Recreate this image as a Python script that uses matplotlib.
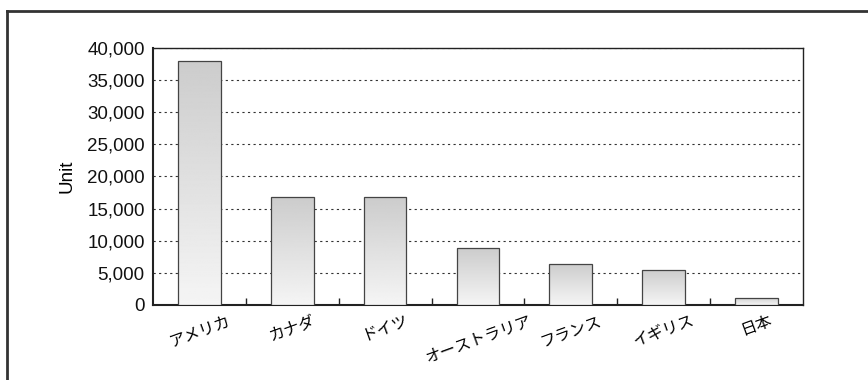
import matplotlib.pyplot as plt
import numpy as np
from matplotlib.lines import Line2D
from matplotlib.ticker import FuncFormatter, FixedLocator

countries = ['アメリカ', 'カナダ', 'ドイツ', 'オーストラリア', 'フランス', 'イギリス', '日本']
units = [38000, 16800, 16800, 8800, 6400, 5500, 1100]
y_ticks = [0, 5000, 10000, 15000, 20000, 25000, 30000, 35000, 40000]

plt.rcParams['font.family'] = ['Liberation Sans', 'Noto Sans CJK JP', 'DejaVu Sans']


def gradient_bars(ax, bars):
    # vertical grey shading: darker at the top, lighter at the bottom
    grad = np.linspace(0.80, 0.96, 256).reshape(-1, 1)
    for bar in bars:
        x0, y0 = bar.get_x(), bar.get_y()
        w, h = bar.get_width(), bar.get_height()
        im = ax.imshow(grad, cmap='gray', vmin=0, vmax=1, aspect='auto',
                       extent=(x0, x0 + w, y0, y0 + h), origin='upper',
                       zorder=bar.get_zorder() - 0.1)
        im.set_clip_path(bar)


def main():
    fig = plt.figure(figsize=(8.68, 3.8), dpi=100)
    ax = fig.add_axes([0.1763, 0.1974, 0.7487, 0.6763])

    x = np.arange(len(countries))
    bars = ax.bar(x, units, width=0.46, facecolor='none',
                  edgecolor='#444444', linewidth=0.9, zorder=3)
    gradient_bars(ax, bars)

    ax.set_xlim(-0.5, len(countries) - 0.5)
    ax.set_ylim(0, 40000)
    ax.set_yticks(y_ticks)
    ax.yaxis.set_major_formatter(FuncFormatter(lambda v, p: f'{int(v):,}'))
    ax.tick_params(axis='y', length=0, pad=6, labelsize=13.5, colors='#111111')

    ax.set_xticks(x)
    ax.set_xticklabels(countries, rotation=20, ha='center', fontsize=11.5,
                       family=['Noto Sans CJK JP', 'DejaVu Sans'])
    ax.tick_params(axis='x', which='major', length=0, pad=5)
    ax.xaxis.set_minor_locator(FixedLocator(x[:-1] + 0.5))
    ax.tick_params(axis='x', which='minor', direction='in', length=5,
                   width=1.0, color='#222222')

    ax.grid(axis='y', color='#333333', linestyle=(0, (2, 3)), linewidth=0.8,
            zorder=1)
    ax.set_axisbelow(True)
    for side in ['left', 'bottom', 'right', 'top']:
        ax.spines[side].set_color('#222222')
        ax.spines[side].set_linewidth(1.0)
    ax.spines['left'].set_linewidth(1.5)
    ax.spines['bottom'].set_linewidth(1.5)

    ax.set_ylabel('Unit', fontsize=13.5, labelpad=8)

    # outer frame along the left and top of the figure
    fig.add_artist(Line2D([0.008, 0.008], [0.0, 0.97], transform=fig.transFigure,
                          color='#333333', linewidth=2.0))
    fig.add_artist(Line2D([0.008, 1.0], [0.97, 0.97], transform=fig.transFigure,
                          color='#333333', linewidth=2.0))

    fig.savefig('out.png', dpi=100, facecolor='white')


if __name__ == "__main__":
    main()
